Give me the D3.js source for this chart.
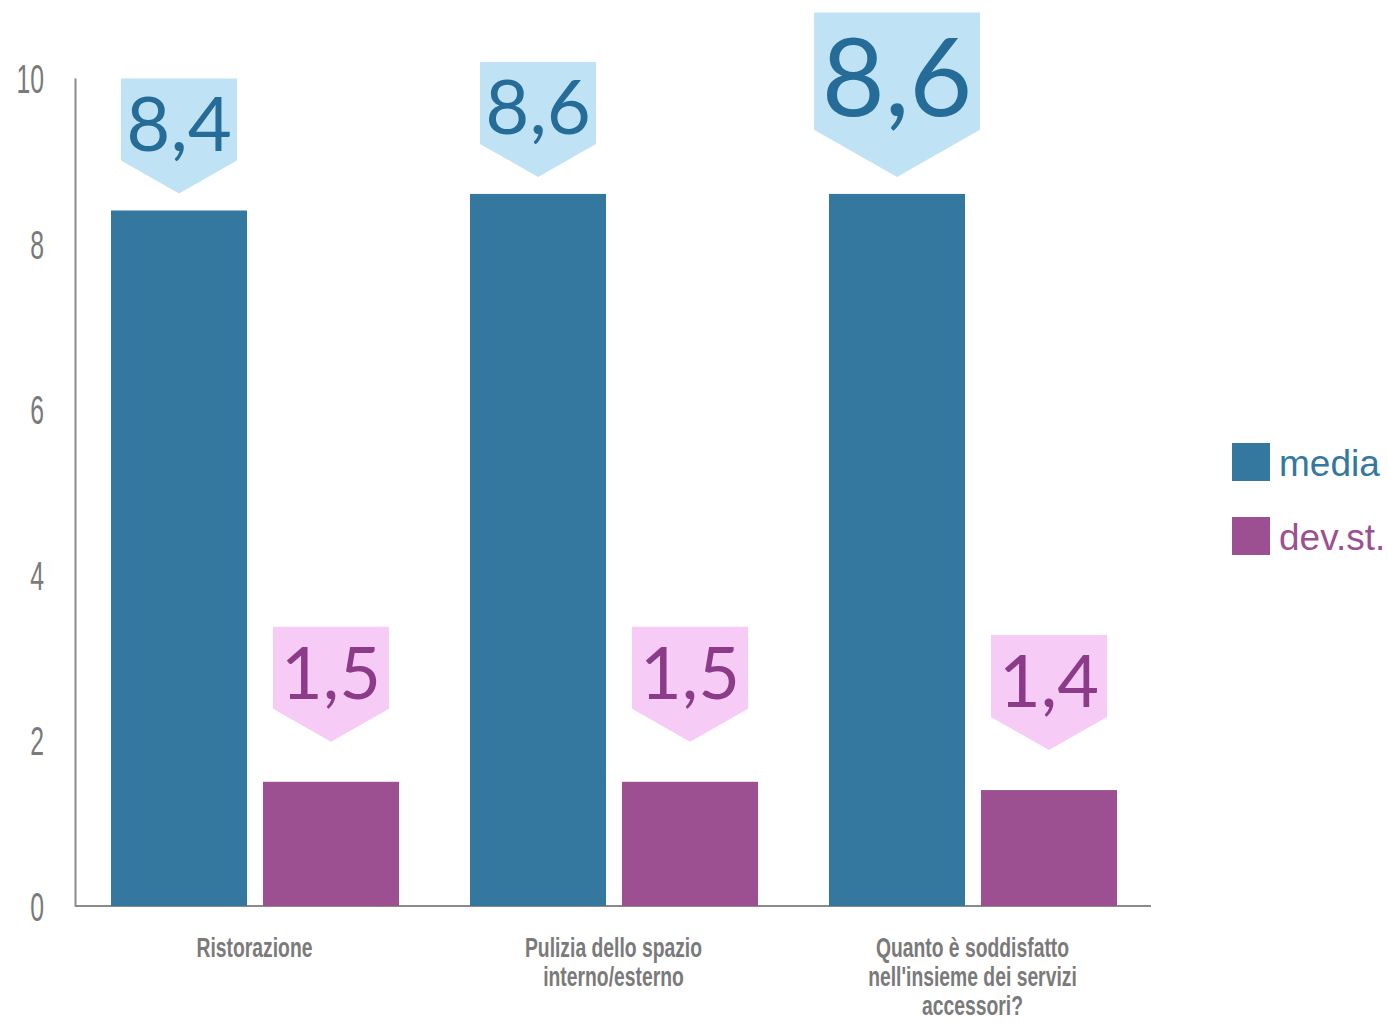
<!DOCTYPE html>
<html><head><meta charset="utf-8">
<script src="https://cdn.jsdelivr.net/npm/d3@7"></script>
<style>
body{margin:0;background:#fff;}
svg{display:block;}
</style></head>
<body>
<script>
const categories = ["Ristorazione", "Pulizia dello spazio\ninterno/esterno", "Quanto è soddisfatto\nnell'insieme dei servizi\naccessori?"];
const mediaValues = [8.4, 8.6, 8.6];
const devValues = [1.5, 1.5, 1.4];
const mediaLabels = ["8,4", "8,6", "8,6"];
const devLabels = ["1,5", "1,5", "1,4"];
const yTicks = [0, 2, 4, 6, 8, 10];
const seriesNames = ["media", "dev.st."];

const W = 1388, H = 1023;
const svg = d3.select("body").append("svg").attr("width", W).attr("height", H);

const colors = {media: "#35789f", dev: "#9c4f91"};
const calloutFill = {media: "#bfe3f4", dev: "#f6cbf6"};
const calloutText = {media: "#256c98", dev: "#8b3b88"};
const condensed = 0.62;

const x0 = d3.scaleBand().domain(categories).range([75, 1152]).paddingInner(0).paddingOuter(0);
const x1 = d3.scaleBand().domain(["media", "dev"]).range([36, 36 + 288]).paddingInner(0.105);
const y = d3.scaleLinear().domain([0, 10]).range([906, 78]);

// axes
const yAxis = d3.axisLeft(y).tickValues(yTicks).tickSize(0).tickPadding(31).tickFormat(d3.format("d"));
const gy = svg.append("g").attr("transform", "translate(75,0)").call(yAxis);
gy.select(".domain").attr("stroke", "#8a8a8a").attr("stroke-width", 2);
gy.selectAll("text")
  .attr("fill", "#7a7a7a")
  .style("font-family", "'Liberation Sans', Arial, sans-serif")
  .style("font-size", "40px")
  .attr("x", -31 / condensed)
  .attr("transform", `scale(${condensed},1)`)
  .attr("dy", "0.36em");

svg.append("line").attr("x1", 75).attr("x2", 1151).attr("y1", y(0)).attr("y2", y(0))
  .attr("stroke", "#8a8a8a").attr("stroke-width", 2);

// bars
const rows = categories.map((c, i) => ({cat: c, i, media: mediaValues[i], dev: devValues[i]}));
const groups = svg.selectAll("g.grp").data(rows).join("g").attr("class", "grp")
  .attr("transform", d => `translate(${x0(d.cat)},0)`);

groups.selectAll("rect.bar").data(d => [{k: "media", v: d.media, i: d.i}, {k: "dev", v: d.dev, i: d.i}])
  .join("rect").attr("class", "bar")
  .attr("x", d => x1(d.k)).attr("width", x1.bandwidth())
  .attr("y", d => y(d.v)).attr("height", d => y(0) - y(d.v))
  .attr("fill", d => colors[d.k]);

// callouts
function callout(g, cx, tipY, k, label, s, fs) {
  const w = 116 * s, rh = 82 * s, ah = 33 * s;
  const top = tipY - ah - rh;
  const p = d3.path();
  p.moveTo(cx - w / 2, top);
  p.lineTo(cx + w / 2, top);
  p.lineTo(cx + w / 2, top + rh);
  p.lineTo(cx, tipY);
  p.lineTo(cx - w / 2, top + rh);
  p.closePath();
  g.append("path").attr("d", p.toString()).attr("fill", calloutFill[k]);
  g.append("text").attr("x", cx).attr("y", top + rh * 0.88)
    .attr("text-anchor", "middle")
    .attr("fill", calloutText[k])
    .style("font-family", "Lato, 'Noto Sans', sans-serif")
    .style("font-size", fs + "px")
    .text(label);
}
rows.forEach((d, i) => {
  const g = svg.append("g");
  const big = i === 2 ? 1.43 : 1;
  const mx = x0(d.cat) + x1("media") + x1.bandwidth() / 2;
  const dx = x0(d.cat) + x1("dev") + x1.bandwidth() / 2;
  callout(g, mx, y(d.media) - 17, "media", mediaLabels[i], big, 76 * big);
  callout(g, dx, y(d.dev) - 40, "dev", devLabels[i], 1, 72);
});

// category labels
rows.forEach(d => {
  const lines = d.cat.split("\n");
  const cx = (x0(d.cat) + x0.bandwidth() / 2) / 0.69;
  const t = svg.append("text")
    .attr("transform", "scale(0.69,1)")
    .attr("y", 957)
    .attr("text-anchor", "middle")
    .attr("fill", "#7a7a7a")
    .style("font-family", "'Liberation Sans', Arial, sans-serif")
    .style("font-weight", "bold")
    .style("font-size", "28px");
  lines.forEach((l, j) => t.append("tspan").attr("x", cx).attr("dy", j ? 29 : 0).text(l));
});

// legend
const legend = svg.append("g").attr("transform", "translate(1232,443)");
seriesNames.forEach((n, i) => {
  const k = i === 0 ? "media" : "dev";
  legend.append("rect").attr("x", 0).attr("y", i * 74).attr("width", 38).attr("height", 38).attr("fill", colors[k]);
  legend.append("text").attr("x", 47).attr("y", i * 74 + 33)
    .attr("fill", colors[k])
    .style("font-family", "'Liberation Sans', Arial, sans-serif")
    .style("font-size", "37px")
    .text(n);
});
</script>
</body></html>
